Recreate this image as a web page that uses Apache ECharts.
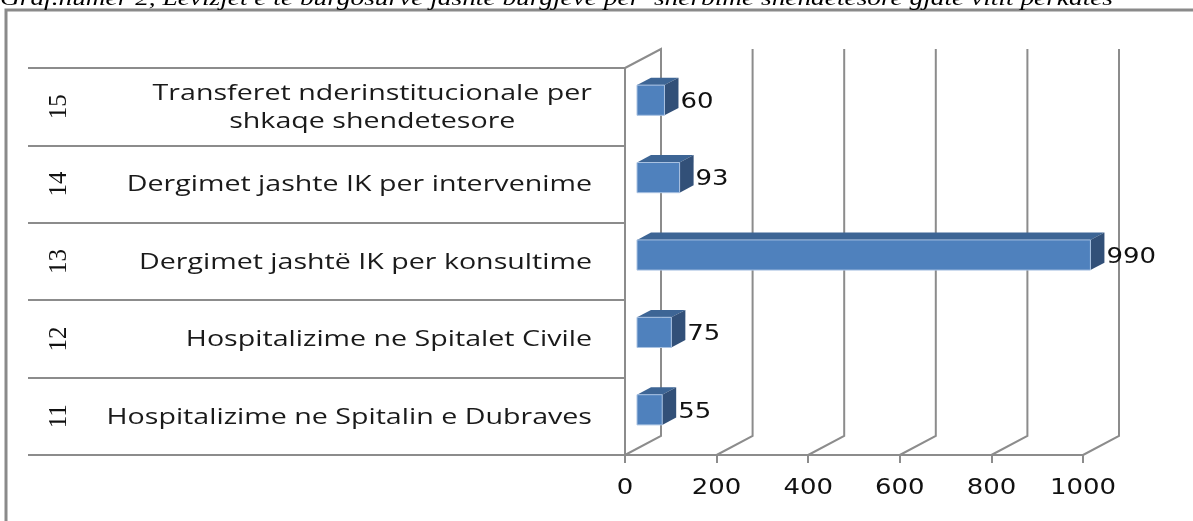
<!DOCTYPE html>
<html><head><meta charset="utf-8">
<script src="https://cdn.jsdelivr.net/npm/echarts@6/dist/echarts.min.js"></script>
<style>html,body{margin:0;padding:0;background:#fff}#c{width:1193px;height:521px}</style>
</head><body><div id="c"></div>
<script>
// ---- data ----
const codes = ['11', '12', '13', '14', '15'];
const categories = [
  'Hospitalizime ne Spitalin e Dubraves',
  'Hospitalizime ne Spitalet Civile',
  'Dergimet jashtë IK per konsultime',
  'Dergimet jashte IK per intervenime',
  'Transferet nderinstitucionale per\nshkaqe shendetesore'
];
const values = [55, 75, 990, 93, 60];
const xTicks = [0, 200, 400, 600, 800, 1000];
const titleText = 'Graf.numer 2, Lëvizjet e të burgosurve jashtë burgjeve për  shërbime shëndetësore gjatë vitit përkatës';

// ---- style / layout ----
const GREY = '#8c8c8c';
const DX = 36, DY = -19;            // depth of 3D box
const BAR_OX = 12, BAR_OY = -6.5;   // bar placed mid-depth
const BAR_DX = 14, BAR_DY = -7.4;   // bar depth
const BAR_FRAC = 0.39;
const STRETCH = 1.18;               // horizontally stretched lettering of the original
const CAT_STRETCH = 1.3;
const TITLE_FONT = 'italic 21px "Liberation Serif"';
const NUM_FONT = '22px "DejaVu Sans"';
const CAT_FONT = '22px "Open Sans"';

const mc = document.createElement('canvas').getContext('2d');
mc.font = TITLE_FONT;
const titleScale = 1113 / mc.measureText(titleText).width;

const chart = echarts.init(document.getElementById('c'));
const option = {
  animation: false,
  backgroundColor: '#fff',
  grid: { left: 625, top: 68, right: 110, bottom: 66, containLabel: false },
  xAxis: {
    type: 'value', min: 0, max: 1000, interval: 200,
    axisLine: { show: true, lineStyle: { color: GREY, width: 2 } },
    axisTick: { show: true, length: 8, lineStyle: { color: GREY, width: 2 } },
    splitLine: { show: false },
    axisLabel: { show: false }
  },
  yAxis: [
    {
      type: 'category', data: categories,
      axisLine: { show: true, lineStyle: { color: GREY, width: 2 } },
      axisTick: { show: true, length: 597, lineStyle: { color: GREY, width: 2 } },
      splitLine: { show: false },
      axisLabel: { show: false }
    },
    {
      type: 'category', data: codes, position: 'left', offset: 553,
      axisLine: { show: false }, axisTick: { show: false }, splitLine: { show: false },
      axisLabel: { interval: 0, rotate: 90, margin: 0, fontFamily: 'Liberation Serif', fontSize: 25, color: '#111' }
    }
  ],
  graphic: [
    { type: 'polyline', silent: true, shape: { points: [[6, 521], [6, 10], [1193, 10]] },
      style: { stroke: '#8a8a8a', lineWidth: 3, fill: null } },
    { type: 'text', silent: true, x: 0, y: 10, scaleX: titleScale,
      style: { text: titleText, font: TITLE_FONT, fill: '#000', verticalAlign: 'bottom', align: 'left' } }
  ],
  series: [
    {
      // back wall gridlines, floor diagonals and value tick labels
      type: 'custom', name: 'walls', coordinateSystem: 'cartesian2d', xAxisIndex: 0, yAxisIndex: 0,
      silent: true, z: 1, clip: false,
      data: xTicks.map(v => [v, 0]),
      renderItem(params, api) {
        const cs = params.coordSys;
        const v = api.value(0);
        const x = api.coord([v, 0])[0];
        const bottom = cs.y + cs.height, top = cs.y;
        const pts = [[x, bottom], [x + DX, bottom + DY], [x + DX, top + DY]];
        if (v === 0) pts.push([x, top]);
        return {
          type: 'group',
          children: [
            { type: 'polyline', shape: { points: pts }, style: { stroke: GREY, lineWidth: 2, fill: null } },
            { type: 'text', x: x, y: bottom + 33, scaleX: STRETCH,
              style: { text: String(v), font: NUM_FONT, fill: '#111', align: 'center', verticalAlign: 'middle' } }
          ]
        };
      }
    },
    {
      // category labels of the table at the left
      type: 'custom', name: 'catLabels', coordinateSystem: 'cartesian2d', xAxisIndex: 0, yAxisIndex: 0,
      silent: true, z: 2, clip: false,
      data: categories.map(c => [0, c]),
      renderItem(params, api) {
        const i = api.value(1);
        const p = api.coord([0, i]);
        const txt = categories[i].split('\n').map(l => '{c|' + l + '}').join('\n');
        return {
          type: 'text', x: p[0] - 33, y: p[1] + 1, scaleX: CAT_STRETCH,
          style: {
            text: txt, font: CAT_FONT, fill: '#1a1a1a', align: 'right', verticalAlign: 'middle',
            rich: { c: { align: 'center', font: CAT_FONT, lineHeight: 28, fill: '#1a1a1a' } }
          }
        };
      }
    },
    {
      type: 'custom', name: 'bars', coordinateSystem: 'cartesian2d', xAxisIndex: 0, yAxisIndex: 0,
      z: 5, clip: false,
      data: values.map((v, i) => [v, i]),
      encode: { x: 0, y: 1 },
      renderItem(params, api) {
        const v = api.value(0), c = api.value(1);
        const p0 = api.coord([0, c]), p1 = api.coord([v, c]);
        const band = api.size([0, 1])[1];
        const h = band * BAR_FRAC;
        const x0 = p0[0] + BAR_OX, x1 = p1[0] + BAR_OX;
        const yc = p0[1] + BAR_OY;
        const yt = yc - h / 2, yb = yc + h / 2;
        return {
          type: 'group',
          children: [
            { type: 'polygon', shape: { points: [[x0, yt], [x1, yt], [x1 + BAR_DX, yt + BAR_DY], [x0 + BAR_DX, yt + BAR_DY]] },
              style: { fill: '#3d6595' } },
            { type: 'polygon', shape: { points: [[x1, yt], [x1 + BAR_DX, yt + BAR_DY], [x1 + BAR_DX, yb + BAR_DY], [x1, yb]] },
              style: { fill: '#325078' } },
            { type: 'rect', shape: { x: x0, y: yt, width: x1 - x0, height: h },
              style: { fill: '#4f81bd', stroke: '#a9c2e2', lineWidth: 1 } },
            { type: 'text', x: x1 + BAR_DX + 2, y: yc + 2, scaleX: STRETCH,
              style: { text: String(v), font: NUM_FONT, fill: '#111', align: 'left', verticalAlign: 'middle' } }
          ]
        };
      }
    }
  ]
};
chart.setOption(option);
</script>
</body></html>
